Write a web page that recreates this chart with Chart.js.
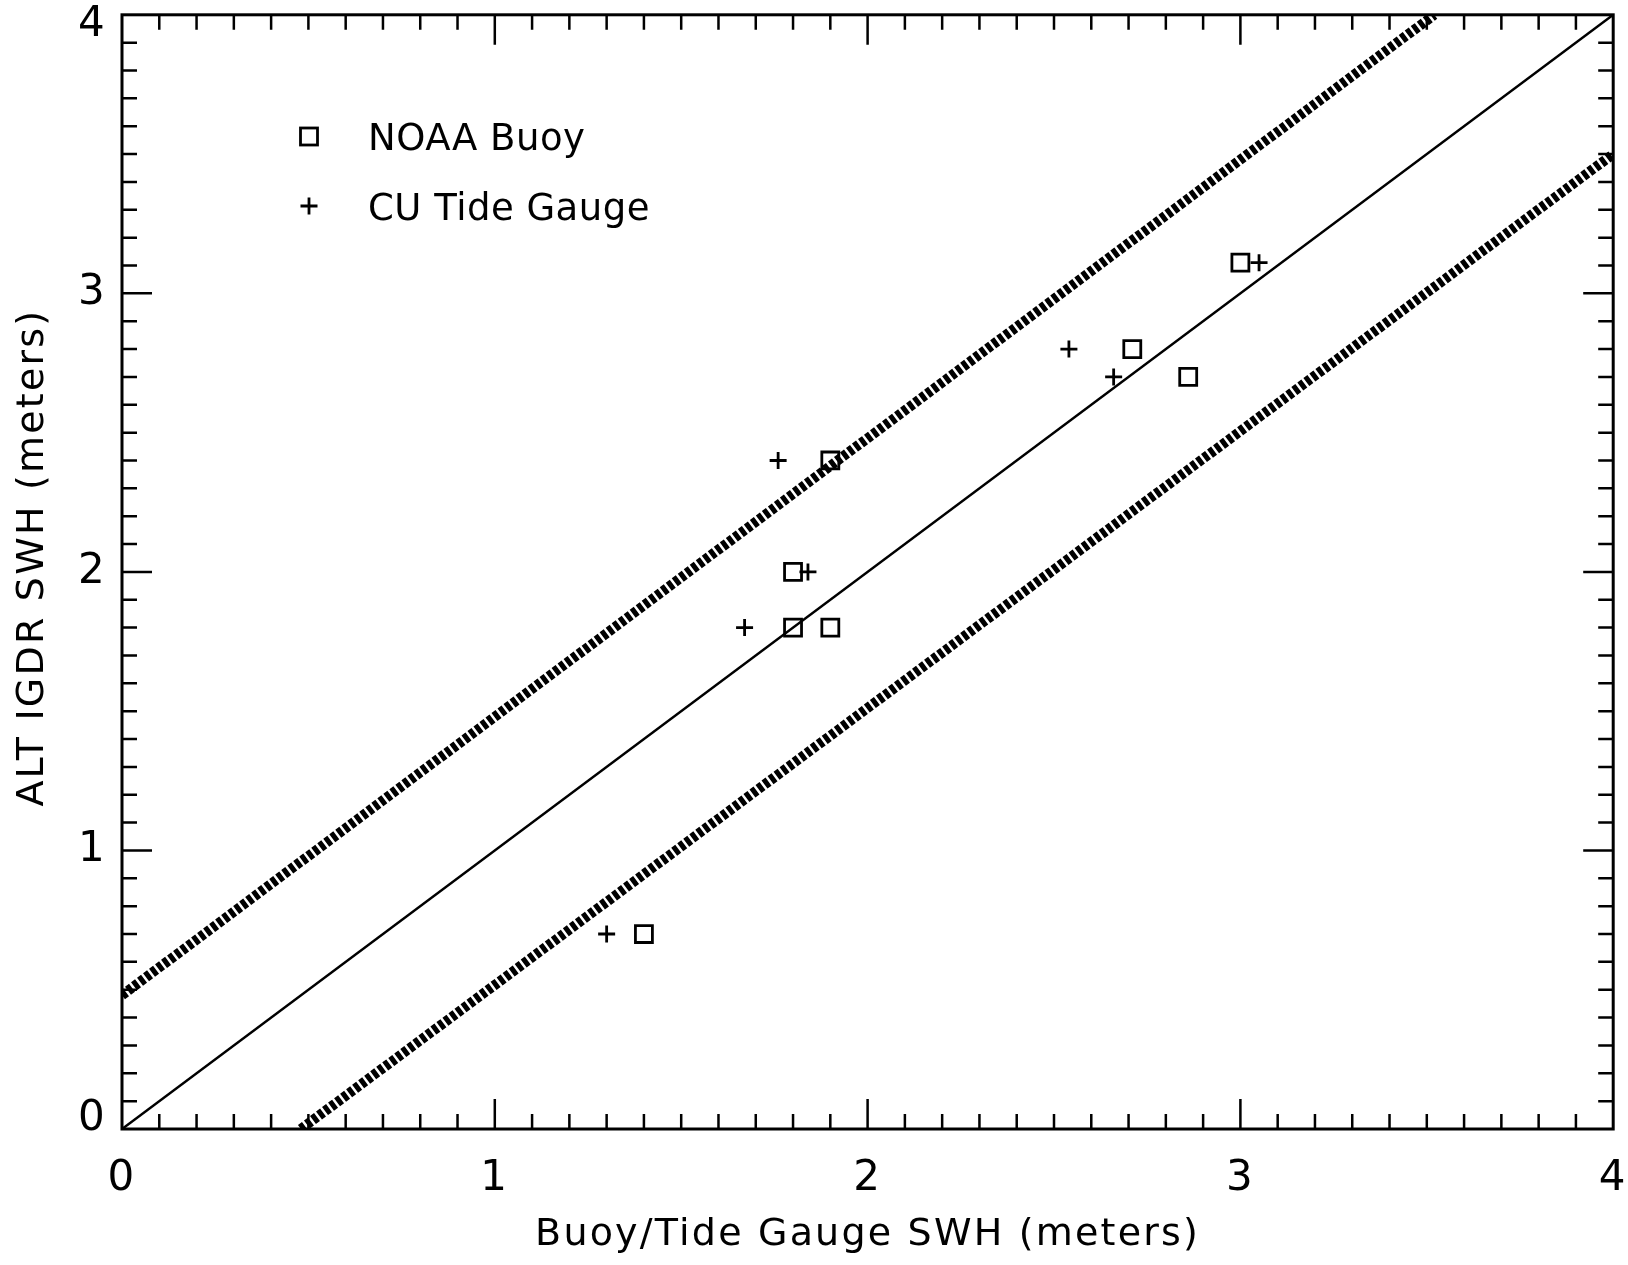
<!DOCTYPE html>
<html>
<head>
<meta charset="utf-8">
<script src="https://cdn.jsdelivr.net/npm/chart.js@4.4.1/dist/chart.umd.min.js"></script>
<style>
  html, body { margin: 0; padding: 0; background: #fff; }
  #wrap { width: 1628px; height: 1265px; }
</style>
</head>
<body>
<div id="wrap"><canvas id="swhChart" width="1628" height="1265"></canvas></div>
<script>
// values (metres)
const buoyX = [1.40, 1.80, 1.90, 1.80, 1.90, 2.71, 2.86, 3.00];
const buoyY = [0.70, 1.80, 1.80, 2.00, 2.40, 2.80, 2.70, 3.11];
const tideX = [1.30, 1.67, 1.84, 1.76, 2.54, 2.66, 3.05];
const tideY = [0.70, 1.80, 2.00, 2.40, 2.80, 2.70, 3.11];

// 1:1 line and the two bounding lines
const oneToOneX = [0, 4];
const oneToOneY = [0, 4];
const upperX = [0, 3.52];
const upperY = [0.48, 4];
const lowerX = [0.48, 4];
const lowerY = [0, 3.5];

const xTickLabels = ['0', '1', '2', '3', '4'];
const yTickLabels = ['0', '1', '2', '3', '4'];
const legendLabels = ['NOAA Buoy', 'CU Tide Gauge'];

const FONT = "'DejaVu Sans', sans-serif";
const pts = (xs, ys) => xs.map((v, i) => ({ x: v, y: ys[i] }));

// IDL style frame: box with inward ticks on all four sides, y labels, legend
const idlFrame = {
  id: 'idlFrame',
  beforeDraw(chart) {
    chart.ctx.letterSpacing = '2.2px';
  },
  afterDraw(chart) {
    const { ctx, chartArea: a, scales: { x, y } } = chart;
    ctx.save();
    ctx.strokeStyle = '#000';
    ctx.lineWidth = 3;
    ctx.strokeRect(a.left, a.top, a.right - a.left, a.bottom - a.top);

    ctx.lineWidth = 2.5;
    ctx.beginPath();
    for (let i = 1; i < 40; i++) {
      const len = i % 10 === 0 ? 30 : 15;
      const px = x.getPixelForValue(i / 10);
      ctx.moveTo(px, a.bottom); ctx.lineTo(px, a.bottom - len);
      ctx.moveTo(px, a.top); ctx.lineTo(px, a.top + len);
      const py = y.getPixelForValue(i / 10);
      ctx.moveTo(a.left, py); ctx.lineTo(a.left + len, py);
      ctx.moveTo(a.right, py); ctx.lineTo(a.right - len, py);
    }
    ctx.stroke();

    // y tick labels; IDL pulls the end labels slightly inside the frame
    ctx.fillStyle = '#000';
    ctx.font = '400 42px ' + FONT;
    ctx.textAlign = 'right';
    ctx.textBaseline = 'middle';
    yTickLabels.forEach((lab, i) => {
      let py = y.getPixelForValue(parseFloat(lab));
      if (i === 0) py -= 10;
      if (i === yTickLabels.length - 1) py += 10;
      ctx.fillText(lab, a.left - 15, py);
    });

    // legend
    const mx = a.left + 187;
    ctx.lineWidth = 2.8;
    ctx.strokeRect(mx - 8.5, 128, 17, 17);
    ctx.beginPath();
    ctx.moveTo(mx - 8.5, 206); ctx.lineTo(mx + 8.5, 206);
    ctx.moveTo(mx, 197.5); ctx.lineTo(mx, 214.5);
    ctx.stroke();

    ctx.letterSpacing = '0.5px';
    ctx.font = '400 37px ' + FONT;
    ctx.textAlign = 'left';
    ctx.textBaseline = 'alphabetic';
    ctx.fillText(legendLabels[0], a.left + 246, 150);
    ctx.fillText(legendLabels[1], a.left + 246, 220);
    ctx.restore();
  }
};

const boundStyle = {
  showLine: true, pointRadius: 0,
  borderColor: '#000', borderWidth: 10,
  borderDash: [5, 2.5], borderCapStyle: 'butt'
};

new Chart(document.getElementById('swhChart'), {
  type: 'scatter',
  data: {
    datasets: [
      { label: 'upper bound', data: pts(upperX, upperY), ...boundStyle },
      { label: 'lower bound', data: pts(lowerX, lowerY), ...boundStyle },
      {
        label: '1:1',
        data: pts(oneToOneX, oneToOneY),
        showLine: true, pointRadius: 0,
        borderColor: '#000', borderWidth: 2.5
      },
      {
        label: legendLabels[0],
        data: pts(buoyX, buoyY),
        pointStyle: 'rect', pointRadius: 12,
        pointBorderWidth: 2.8,
        pointBorderColor: '#000', pointBackgroundColor: 'rgba(0,0,0,0)'
      },
      {
        label: legendLabels[1],
        data: pts(tideX, tideY),
        pointStyle: 'cross', pointRadius: 8.5,
        pointBorderWidth: 2.8,
        pointBorderColor: '#000', pointBackgroundColor: 'rgba(0,0,0,0)'
      }
    ]
  },
  options: {
    responsive: false,
    animation: false,
    events: [],
    layout: { padding: { top: 9, right: 14, left: 0, bottom: 0 } },
    plugins: {
      legend: { display: false },
      tooltip: { enabled: false }
    },
    scales: {
      x: {
        type: 'linear', min: 0, max: 4,
        grid: { display: false, drawTicks: false },
        border: { display: false },
        ticks: {
          stepSize: 1, autoSkip: false, padding: 25, color: '#000',
          font: { family: FONT, size: 42, weight: 400 },
          callback: (v, i) => xTickLabels[i]
        },
        title: {
          display: true, text: 'Buoy/Tide Gauge SWH (meters)', color: '#000',
          font: { family: FONT, size: 38, weight: 400 },
          padding: { top: 0, bottom: 7 }
        },
        afterFit(s) { s.height = 136; s.paddingLeft = 0; s.paddingRight = 0; }
      },
      y: {
        type: 'linear', min: 0, max: 4,
        grid: { display: false, drawTicks: false },
        border: { display: false },
        ticks: { stepSize: 1, display: false },
        title: {
          display: true, text: '  ALT IGDR SWH (meters)', color: '#000',
          font: { family: FONT, size: 38, weight: 400 },
          padding: { top: 10, bottom: 0 }
        },
        afterFit(s) { s.width = 122; s.paddingTop = 0; s.paddingBottom = 0; }
      }
    }
  },
  plugins: [idlFrame]
});
</script>
</body>
</html>
